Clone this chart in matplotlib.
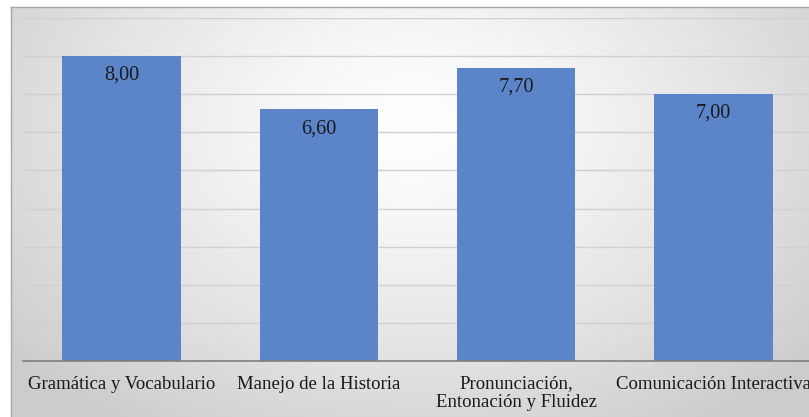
import matplotlib.pyplot as plt
import numpy as np

categories = ["Gramática y Vocabulario", "Manejo de la Historia",
              "Pronunciación,\nEntonación y Fluidez", "Comunicación Interactiva"]
values = [8.00, 6.60, 7.70, 7.00]
value_labels = ["8,00", "6,60", "7,70", "7,00"]

plt.rcParams["font.family"] = "Liberation Serif"

fig = plt.figure(figsize=(8.09, 4.17), dpi=100)

# chart area background with radial gradient
bg = fig.add_axes([11 / 809, 0, 1 - 11 / 809, 1 - 7 / 417])
bg.set_zorder(0)
yy, xx = np.mgrid[0:410, 0:798]
cx, cy = 400, 120
r = np.sqrt(((xx - cx) / 520.0) ** 2 + ((yy - cy) / 360.0) ** 2)
shade = 1.0 - 0.2 * np.clip(r, 0, 1) ** 1.3
img = np.dstack([shade, shade, shade])
bg.imshow(img, aspect="auto", extent=[0, 1, 0, 1], origin="upper")
bg.set_xlim(0, 1)
bg.set_ylim(0, 1)
bg.set_xticks([])
bg.set_yticks([])
for s in ["right", "bottom"]:
    bg.spines[s].set_visible(False)
for s in ["left", "top"]:
    bg.spines[s].set_color("#a6a6a6")
    bg.spines[s].set_linewidth(1.0)

ax = fig.add_axes([22.8 / 809, 1 - 361 / 417, (812 - 22.8) / 809, (361 - 18) / 417])
ax.set_zorder(1)
ax.patch.set_alpha(0)

x = np.arange(len(categories))
ax.bar(x, values, width=0.6, color="#5b84c9", zorder=3)
ax.set_xlim(-0.5, len(categories) - 0.5)
ax.set_ylim(0, 9)
ax.set_yticks(np.arange(1, 10))
ax.yaxis.grid(True, color="#d0d0d0", linewidth=1.0, zorder=0)
ax.tick_params(axis="y", left=False, labelleft=False)
ax.tick_params(axis="x", length=0, pad=10.5, labelsize=13.5, colors="#1a1a1a")
ax.set_xticks(x)
ax.set_xticklabels(categories, linespacing=1.1)
for s in ["left", "right", "top"]:
    ax.spines[s].set_visible(False)
ax.spines["bottom"].set_color("#7f7f7f")
ax.spines["bottom"].set_linewidth(1.2)
ax.spines["bottom"].set_zorder(4)

for xi, v, lab in zip(x, values, value_labels):
    ax.annotate(lab, (xi, v), xytext=(0, -7), textcoords="offset points",
                ha="center", va="top", fontsize=14.6, color="#1a1a1a", zorder=5)

fig.savefig("out.png", dpi=100)
